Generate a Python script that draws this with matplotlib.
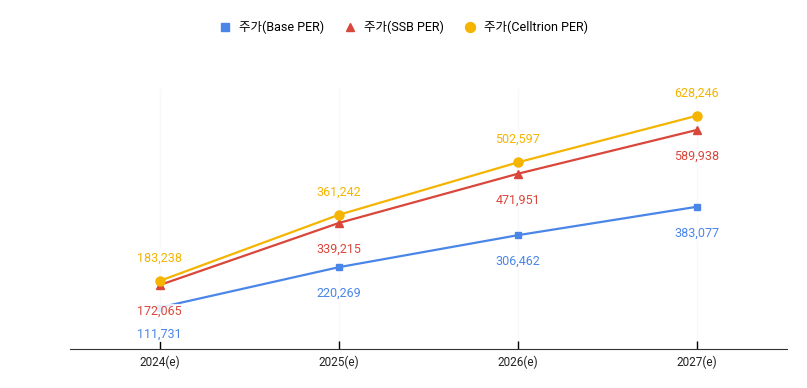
import numpy as np
import matplotlib.pyplot as plt

plt.rcParams['font.family'] = ['Roboto', 'Noto Sans CJK KR', 'DejaVu Sans']

years = ['2024(e)', '2025(e)', '2026(e)', '2027(e)']
base_per = [111731, 220269, 306462, 383077]
ssb_per = [172065, 339215, 471951, 589938]
celltrion_per = [183238, 361242, 502597, 628246]

series = [
    ('주가(Base PER)', base_per, '#4a86e8', 's', 5, -1),
    ('주가(SSB PER)', ssb_per, '#d9473b', '^', 5.5, -1),
    ('주가(Celltrion PER)', celltrion_per, '#f4b400', 'o', 6.5, 1),
]

fig = plt.figure(figsize=(8.07, 3.88), dpi=100)
ax = fig.add_axes([0.0867, 0.1005, 0.888, 0.670])
x = np.arange(len(years))

for name, vals, color, marker, ms, side in series:
    ax.plot(x, vals, color=color, lw=1.6, marker=marker, markersize=ms, label=name)
    off = 16.5 if side > 0 else -19
    for xi, v in zip(x, vals):
        ax.annotate(f'{v:,}', (xi, v), xytext=(0, off), textcoords='offset points',
                    ha='center', va='center', fontsize=9, color=color,
                    bbox=dict(boxstyle='square,pad=0.1', fc='white', ec='none', alpha=0.85))

ax.set_xlim(-0.5, 3.5)
ax.set_ylim(0, 700000)
ax.set_xticks(x)
ax.set_xticklabels(years, fontsize=8.5, color='#222222')
ax.set_yticks([])
ax.tick_params(axis='x', direction='in', length=6, width=1, pad=5)
for xi in x:
    ax.axvline(xi, color='#f8f8f8', lw=1, zorder=0)
for s in ['top', 'right', 'left']:
    ax.spines[s].set_visible(False)
ax.spines['bottom'].set_color('#333333')

fig.legend(loc='upper center', bbox_to_anchor=(0.5, 0.975), ncol=3, frameon=False,
           fontsize=9, handlelength=1.0, handletextpad=0.6, columnspacing=1.6,
           markerscale=1.1)
# legend: markers only
leg = fig.legends[0]
for h in leg.legend_handles:
    h.set_linestyle('')

fig.savefig('out.png', dpi=100)
